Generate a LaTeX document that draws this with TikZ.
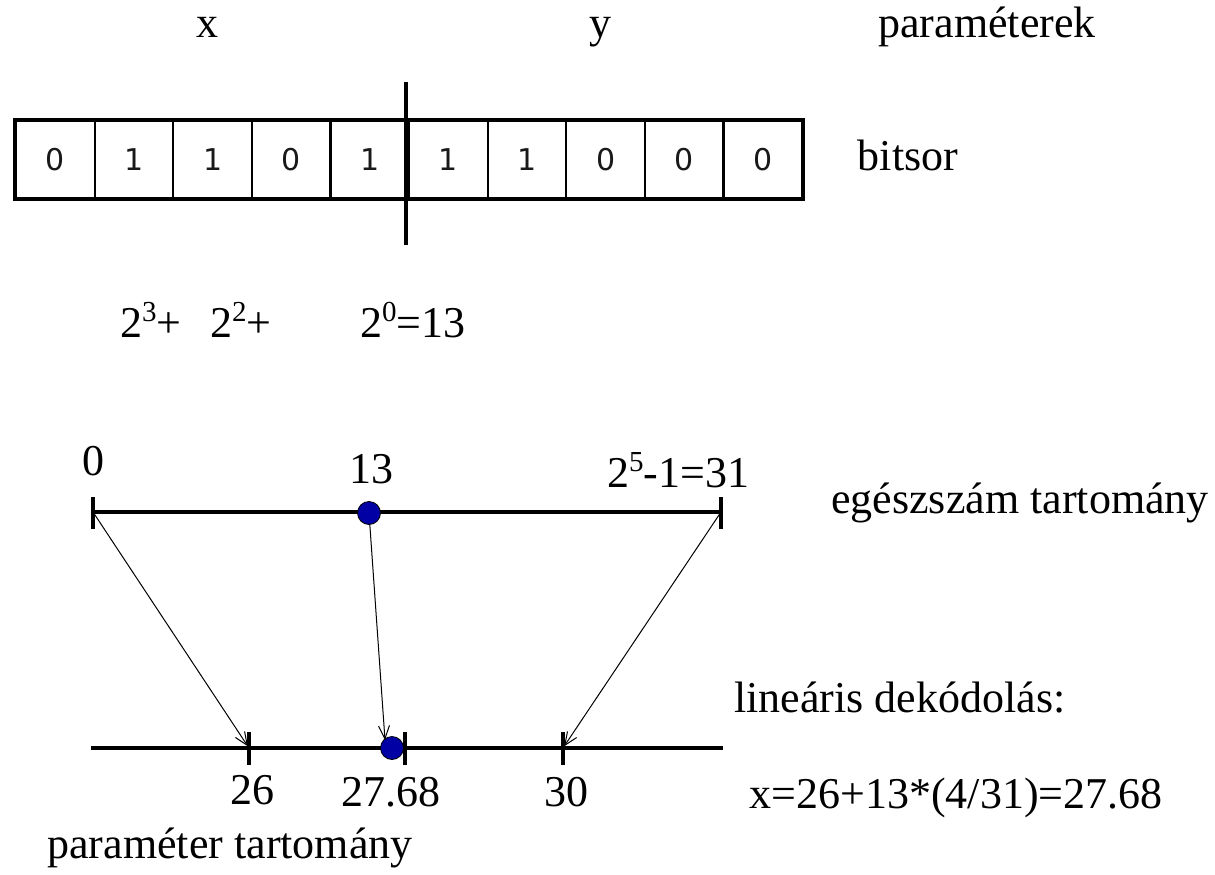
\documentclass[tikz,border=0pt]{standalone}
\usepackage{fontspec}
\setmainfont{Liberation Serif}
\newfontfamily\bitfont{DejaVu Sans}
\usetikzlibrary{arrows.meta}
\definecolor{dotblue}{RGB}{0,0,165}
\newcommand{\supx}[1]{\raisebox{0.36em}{\fontsize{29}{29}\selectfont #1}}
\begin{document}
\begin{tikzpicture}[x=1pt,y=-1pt,
  lbl/.style={font=\fontsize{44}{44}\selectfont, inner sep=0pt, anchor=base},
  lblw/.style={font=\fontsize{44}{44}\selectfont, inner sep=0pt, anchor=base west},
  cell/.style={draw, line width=2.2pt, minimum width=78.6pt, minimum height=77pt, anchor=north west, inner sep=0pt},
  bittext/.style={font={\fontsize{30}{30}\bitfont}, inner sep=0pt, text=black!90},
  heavy/.style={line width=3.4pt},
  arr/.style={line width=1pt, -{Straight Barb[length=13pt,width=11pt]}},
  dotnode/.style={circle, fill=dotblue, draw=black, line width=0.8pt, minimum size=23pt, inner sep=0pt}]
\useasboundingbox (0,0) rectangle (1215,875);
\fill[white] (0,0) rectangle (1215,875);

% headings
\node[lbl] (hx) at (207,38) {x};
\node[lbl] (hy) at (600,38) {y};
\node[lbl] (hpar) at (987,38) {paraméterek};
\node[lbl] (hbit) at (908,170) {bitsor};

% bit cells
\foreach \bv [count=\i from 0] in {0,1,1,0,1,1,1,0,0,0}{
  \node[cell] (c\i) at (15+78.6*\i,120) {};
  \node[bittext] (v\i) at (c\i.center) {\bv};
}
\draw[heavy] (c0.north west) rectangle (c9.south east);
\coordinate (divtop) at (406,82);
\coordinate (divbot) at (406,245);
\draw[heavy] (divtop) -- (divbot);

% formula
\node[lblw] (f1) at (120,337) {2\supx{3}+};
\node[lblw] (f2) at (210,337) {2\supx{2}+};
\node[lblw] (f3) at (360,337) {2\supx{0}=13};

% integer range line
\coordinate (t0) at (93,512);
\coordinate (t31) at (721,512);
\draw[heavy] (t0) -- (t31);
\draw[heavy] (t0) ++(0,-15) -- ++(0,32);
\draw[heavy] (t31) ++(0,-15) -- ++(0,32);
\node[lbl] (l0) at (93,475) {0};
\node[lbl] (l13) at (371,483) {13};
\node[lblw] (l31) at (607,487) {2\supx{5}-1=31};
\node[dotnode] (d13) at (369,513) {};
\node[lbl] (hint) at (1020,513) {egészszám tartomány};

% parameter range line
\coordinate (bl) at (91,748);
\coordinate (br) at (723,748);
\coordinate (b26) at (249,748);
\coordinate (b2768) at (405,748);
\coordinate (b30) at (563,748);
\draw[heavy] (bl) -- (br);
\foreach \p in {b26,b2768,b30}
  \draw[heavy] (\p) ++(0,-16) -- ++(0,33);
\node[dotnode] (d2768) at (392,748) {};
\coordinate (mid) at (385,740);
\node[lbl] (l26) at (252,804) {26};
\node[lbl] (l2768) at (391,806) {27.68};
\node[lbl] (l30) at (566,806) {30};
\node[lbl] (hpt) at (230,858) {paraméter tartomány};
\node[lbl] (hlin) at (900,712) {lineáris dekódolás:};
\node[lbl] (hform) at (956,808) {x=26+13*(4/31)=27.68};

% arrows
\draw[arr, shorten <=3pt, shorten >=2pt] (t0) -- (b26);
\draw[arr] (d13) -- (mid);
\draw[arr, shorten <=3pt, shorten >=2pt] (t31) -- (b30);
\end{tikzpicture}
\end{document}
